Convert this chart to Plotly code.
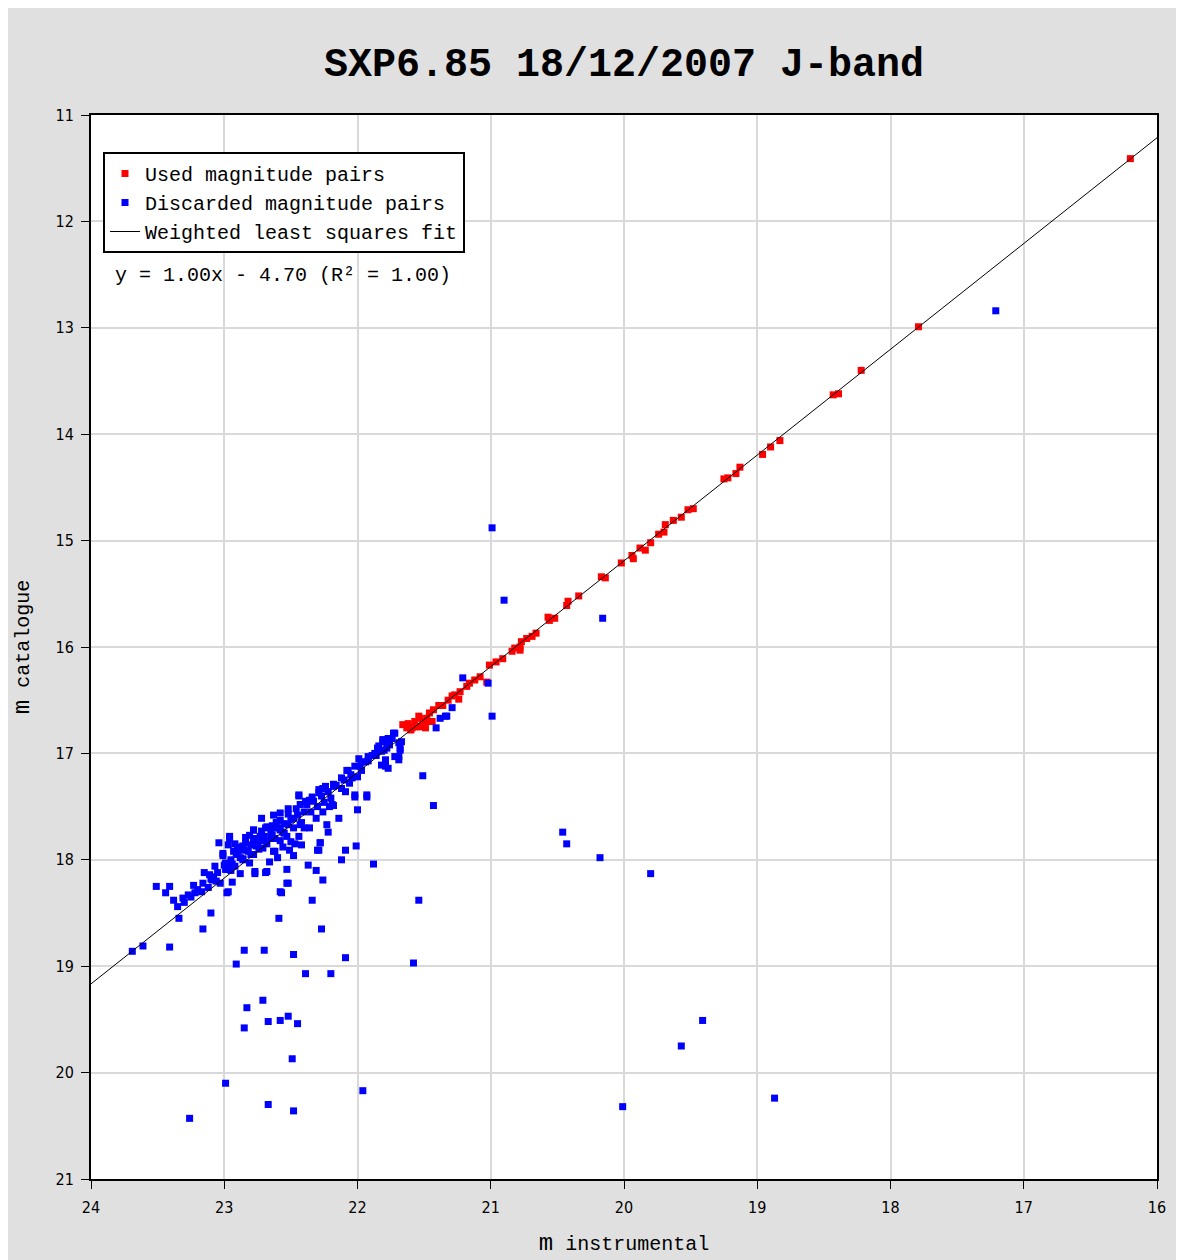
import plotly.graph_objects as go

# ---- Data ----
used_x = [16.20, 17.79, 18.22, 18.39, 18.43, 18.83, 18.90, 18.96, 19.13, 19.16, 19.22, 19.25,
          19.48, 19.52, 19.57, 19.63, 19.69, 19.70, 19.74, 19.80, 19.84, 19.88, 19.94, 19.93,
          20.02, 20.14, 20.17, 20.34, 20.42, 20.43, 20.52, 20.57, 20.56, 20.66, 20.69, 20.73,
          20.77, 20.78, 20.82, 20.78, 20.84, 20.91, 20.96, 21.01, 21.03, 21.08, 21.12, 21.16,
          21.18, 21.23, 21.29, 21.24, 21.27, 21.32, 21.36, 21.39, 21.43, 21.46, 21.44, 21.48,
          21.53, 21.49, 21.54, 21.57, 21.62, 21.66, 21.59, 21.53, 21.56, 21.63, 21.51, 21.49,
          21.60]
used_y = [11.41, 12.99, 13.40, 13.62, 13.63, 14.06, 14.12, 14.19, 14.31, 14.37, 14.41, 14.42,
          14.70, 14.71, 14.78, 14.81, 14.85, 14.92, 14.94, 15.02, 15.09, 15.07, 15.14, 15.17,
          15.21, 15.35, 15.34, 15.52, 15.57, 15.61, 15.73, 15.72, 15.75, 15.87, 15.90, 15.92,
          15.95, 16.00, 16.01, 16.03, 16.04, 16.11, 16.14, 16.17, 16.33, 16.28, 16.31, 16.34,
          16.37, 16.42, 16.46, 16.49, 16.45, 16.50, 16.55, 16.55, 16.59, 16.62, 16.70, 16.67,
          16.67, 16.70, 16.65, 16.70, 16.72, 16.73, 16.76, 16.75, 16.75, 16.76, 16.72, 16.76,
          16.78]

discarded_x = [
    # outliers
    17.21, 20.99, 20.90, 20.16, 21.21, 21.02, 20.99, 21.29, 21.34, 21.38, 21.41, 21.33,
    21.51, 21.43, 21.54, 21.88, 22.01, 22.00, 21.93, 22.02, 22.09, 22.12, 22.28, 22.29,
    22.26, 22.31, 22.37, 22.52, 22.57, 22.34, 22.59, 22.27, 22.69, 22.77, 22.98, 23.10,
    23.16, 23.41, 23.34, 23.51, 23.41, 23.44, 23.61, 23.69, 22.85, 22.70, 22.48, 22.09,
    21.58, 22.91, 22.39, 22.20, 22.71, 22.83, 22.52, 22.58, 22.67, 22.45, 22.85, 22.49,
    22.99, 21.96, 22.67, 22.48, 23.26, 20.46, 20.43, 20.18, 19.80, 19.41, 19.57, 20.01,
    18.87, 22.07, 22.18, 22.14, 22.22,
    # main clump
    23.04, 22.96, 22.97, 23.01, 22.99, 23.07, 22.98, 23.11, 23.09, 23.16, 23.23, 23.22,
    23.27, 23.31, 23.17, 23.03, 22.97, 22.94, 22.88, 22.77, 22.68, 22.81, 22.86, 22.91,
    22.86, 22.78, 22.73, 22.78, 22.68, 22.61, 22.56, 22.63, 22.71, 22.63, 22.78, 22.53,
    22.53, 22.58,
    22.44, 22.29, 22.26, 22.18, 22.36, 22.43, 22.52, 22.58, 22.63, 22.72, 22.69, 22.78,
    22.81, 22.96, 22.48, 22.43, 22.36, 22.31, 22.26, 22.21, 22.23, 22.28, 22.30, 22.42,
    22.51, 22.48, 22.58, 22.65, 22.75, 22.86, 22.93, 23.01, 22.61, 22.53,
    21.72, 21.81, 21.67, 21.68, 21.80, 21.85, 21.79, 21.69, 21.89, 21.94, 21.79, 21.99,
    22.02, 22.08, 21.97, 22.04, 22.12, 22.18, 22.24, 22.29, 22.34, 22.44, 22.39, 22.19,
    22.02, 21.93, 22.09,
    21.73, 21.77, 21.81, 21.69, 21.84, 21.78, 21.68, 21.87, 21.92, 21.72, 21.69, 21.97,
    21.82, 21.77,
    22.40, 22.45, 22.50, 22.55, 22.60, 22.65, 22.70, 22.75, 22.80, 22.85, 22.90, 22.95,
    23.00, 22.42, 22.48, 22.55, 22.62, 22.68, 22.74, 22.80, 22.86, 22.92, 22.46, 22.52,
    22.58, 22.64, 22.72, 22.78, 22.84, 22.90, 22.38, 22.33, 22.27, 22.22, 22.16, 22.10,
    22.05, 21.98, 21.92, 21.86, 21.82, 21.76, 21.74, 22.35, 22.30, 22.25, 22.20, 22.12,
    22.06, 22.00, 22.95, 23.05, 23.10, 23.12, 23.20, 23.25, 23.30, 23.35, 23.38, 23.15,
    23.06, 22.62, 22.56, 22.50, 22.44, 22.40, 22.47, 22.60, 22.66,
    22.88, 22.82, 22.76, 22.70, 22.64, 22.58, 22.52, 22.94, 22.99, 23.08, 22.92, 22.84]
discarded_y = [
    12.84, 14.88, 15.56, 15.73, 16.29, 16.34, 16.65, 16.57, 16.65, 16.67, 16.76, 16.65,
    17.21, 17.49, 18.38, 18.04, 17.87, 17.53, 17.41, 17.41, 17.91, 18.00, 17.84, 17.91,
    18.19, 18.10, 18.05, 18.22, 18.31, 18.38, 18.55, 18.65, 18.12, 18.13, 18.31, 18.50,
    18.65, 18.82, 18.55, 18.25, 18.25, 18.31, 18.81, 18.86, 18.85, 18.85, 18.89, 18.92,
    18.97, 18.98, 19.07, 19.07, 19.32, 19.39, 19.47, 19.51, 19.52, 19.54, 19.58, 19.87,
    20.10, 20.17, 20.30, 20.36, 20.43, 17.74, 17.85, 17.98, 18.13, 19.51, 19.75, 20.32,
    20.24, 17.16, 17.49, 17.61, 17.74,
    17.84, 17.80, 17.86, 17.94, 18.03, 18.06, 18.09, 18.14, 18.19, 18.22, 18.24, 18.31,
    18.33, 18.36, 18.30, 18.22, 18.30, 18.21, 18.13, 18.11, 18.11, 18.03, 17.99, 17.94,
    17.87, 17.84, 17.78, 17.72, 17.69, 17.65, 17.74, 17.80, 17.89, 17.92, 17.95, 18.09,
    18.22, 18.30,
    17.40, 17.34, 17.33, 17.31, 17.44, 17.48, 17.52, 17.56, 17.58, 17.61, 17.70, 17.72,
    17.77, 17.78, 17.61, 17.67, 17.70, 17.61, 17.55, 17.50, 17.67, 17.84, 17.91, 17.86,
    17.91, 17.96, 17.82, 17.80, 17.86, 17.89, 17.92, 17.96, 17.70, 17.78,
    16.81, 16.89, 16.89, 16.95, 16.97, 16.95, 17.06, 17.03, 17.02, 17.08, 17.12, 17.05,
    17.12, 17.16, 17.16, 17.23, 17.23, 17.29, 17.31, 17.37, 17.41, 17.39, 17.45, 17.48,
    17.39, 17.39, 17.36,
    16.81, 16.86, 16.87, 16.90, 16.93, 16.95, 16.97, 17.00, 17.03, 17.03, 17.06, 17.08,
    17.11, 17.14,
    17.55, 17.58, 17.62, 17.66, 17.70, 17.74, 17.78, 17.82, 17.86, 17.91, 17.95, 18.00,
    18.05, 17.65, 17.70, 17.75, 17.80, 17.85, 17.90, 17.95, 18.00, 18.06, 17.52, 17.57,
    17.63, 17.68, 17.73, 17.80, 17.84, 17.88, 17.48, 17.45, 17.40, 17.36, 17.30, 17.25,
    17.20, 17.12, 17.07, 17.02, 16.98, 16.92, 16.86, 17.55, 17.50, 17.46, 17.42, 17.33,
    17.28, 17.22, 18.10, 18.12, 18.18, 18.26, 18.28, 18.35, 18.40, 18.44, 18.38, 18.12,
    18.20, 17.92, 17.88, 17.83, 17.78, 17.70, 17.85, 17.98, 18.02,
    17.98, 17.92, 17.87, 17.82, 17.77, 17.72, 17.67, 18.04, 18.09, 18.16, 17.85, 17.79]

fit_slope = 0.994
fit_intercept = -4.69
fit_x = [24, 16]
fit_y = [fit_slope * v + fit_intercept for v in fit_x]

x_ticks = [24, 23, 22, 21, 20, 19, 18, 17, 16]
y_ticks = [11, 12, 13, 14, 15, 16, 17, 18, 19, 20, 21]

title_text = "SXP6.85 18/12/2007 J-band"
equation_text = "y = 1.00x - 4.70 (R\u00b2 = 1.00)"

MONO = "Liberation Mono, Courier New, monospace"
NARROW = "Liberation Sans Narrow, DejaVu Sans Condensed, Liberation Sans, sans-serif"

fig = go.Figure()
fig.add_trace(go.Scatter(x=used_x, y=used_y, mode="markers", name="Used magnitude pairs",
                         marker=dict(symbol="square", size=7, color="#ff0000", line=dict(width=0))))
fig.add_trace(go.Scatter(x=discarded_x, y=discarded_y, mode="markers", name="Discarded magnitude pairs",
                         marker=dict(symbol="square", size=7, color="#0000ff", line=dict(width=0))))
fig.add_trace(go.Scatter(x=fit_x, y=fit_y, mode="lines", name="Weighted least squares fit",
                         line=dict(color="black", width=1)))

# page body adds an 8px offset; figure coordinates below are relative to the figure
W, H = 1176, 1252
L, R, T, B = 83, 27, 107, 81
pw, ph = W - L - R, H - T - B
OX, OY = 8, 8  # page offset of the figure

fig.update_layout(
    width=W, height=H,
    margin=dict(l=L, r=R, t=T, b=B, pad=0, autoexpand=False),
    paper_bgcolor="#e0e0e0",
    plot_bgcolor="white",
    title=dict(text="<b>" + title_text + "</b>", x=(L + pw / 2) / W, xanchor="center",
               y=1 - (62 - OY) / H, yanchor="middle",
               font=dict(family=MONO, size=40, color="black")),
    showlegend=True,
    legend=dict(x=(103 - OX - L) / pw, y=1 - (152 - OY - T) / ph, xanchor="left", yanchor="top",
                bgcolor="white", bordercolor="black", borderwidth=2,
                font=dict(family=MONO, size=20, color="black"),
                itemwidth=30, tracegroupgap=0),
    xaxis=dict(range=[24, 16], tickmode="array", tickvals=x_ticks,
               ticktext=[str(v) for v in x_ticks], automargin=False,
               showgrid=True, gridcolor="#d9d9d9", gridwidth=2,
               showline=True, linecolor="black", linewidth=2, mirror=True,
               ticks="outside", ticklen=8, tickcolor="black", tickwidth=1,
               ticklabelstandoff=5,
               tickfont=dict(family=NARROW, size=16, color="black"),
               zeroline=False,
               title=dict(text='<span style="font-size:24px">m</span> instrumental',
                          font=dict(family=MONO, size=20, color="black"), standoff=20)),
    yaxis=dict(range=[21, 11], tickmode="array", tickvals=y_ticks,
               ticktext=[str(v) for v in y_ticks], automargin=False,
               showgrid=True, gridcolor="#d9d9d9", gridwidth=2,
               showline=True, linecolor="black", linewidth=2, mirror=True,
               ticks="outside", ticklen=8, tickcolor="black", tickwidth=1,
               ticklabelstandoff=4,
               tickfont=dict(family=NARROW, size=16, color="black"),
               zeroline=False,
               title=dict(text='<span style="font-size:24px">m</span> catalogue',
                          font=dict(family=MONO, size=20, color="black"), standoff=20)),
    annotations=[dict(text=equation_text, xref="paper", yref="paper",
                      x=(113 - OX - L) / pw, y=1 - (275 - OY - T) / ph, xanchor="left", yanchor="middle",
                      showarrow=False, font=dict(family=MONO, size=20, color="black"))],
)

fig.write_html("out.html", config={"displayModeBar": False})
